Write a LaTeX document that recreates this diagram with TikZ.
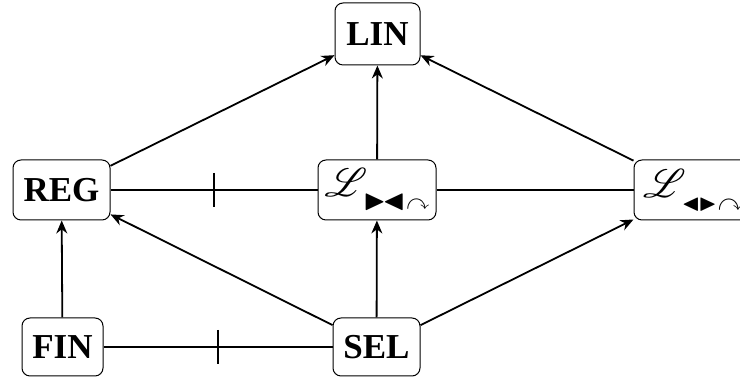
\documentclass[tikz,border=0pt]{standalone}
\usepackage{graphicx}
\usepackage{amssymb}
\usepackage{mathrsfs}
\usepackage{fontspec}
\setmainfont{Liberation Serif}
\usetikzlibrary{arrows.meta,calc}
\newcommand{\bigL}{\resizebox{!}{14pt}{$\mathscr{L}$}}
\newcommand{\subsym}[2]{\raisebox{-6.5pt}{\resizebox{#1}{!}{$#2$}}}
\begin{document}
\begin{tikzpicture}[x=0.5pt,y=-0.5pt,
  box/.style={draw,rounded corners=4pt,line width=0.5pt,inner sep=0pt,
    font=\fontsize{17.5pt}{20pt}\selectfont\bfseries},
  arr/.style={line width=0.9pt,-{Stealth[length=6.5pt,width=5.5pt]}},
  ln/.style={line width=0.9pt},
  tick/.style={line width=0.9pt}]
\useasboundingbox (0,0) rectangle (740,378);
\node[box,minimum width=42.5pt,minimum height=31pt] (lin) at (377.5,34) {LIN};
\node[box,minimum width=48.5pt,minimum height=30pt] (reg) at (61.5,190) {REG};
\node[box,minimum width=59pt,minimum height=30pt] (mid) at (377,190)
  {\bigL\hspace{-2pt}\subsym{21pt}{\blacktriangleright\mkern-2mu\blacktriangleleft}\hspace{0.5pt}\subsym{11.5pt}{\curvearrowright}\hspace{-3pt}};
\node[box,minimum width=59pt,minimum height=30pt] (rgt) at (693,190)
  {\bigL\hspace{-2pt}\subsym{17.5pt}{\blacktriangleleft\mkern-1mu\blacktriangleright}\hspace{0.5pt}\subsym{12.5pt}{\curvearrowright}\hspace{-3pt}};
\node[box,minimum width=40.5pt,minimum height=29pt] (fin) at (62.5,347) {FIN};
\node[box,minimum width=43.5pt,minimum height=29pt] (sel) at (376.5,347) {SEL};
% plain / tick connectors
\draw[ln] (reg.east) -- (mid.west);
\draw[ln] (mid.east) -- (rgt.west);
\draw[ln] (fin.east) -- (sel.west);
\coordinate (t1) at ($(reg.east)!0.5!(mid.west)$);
\coordinate (t2) at ($(fin.east)!0.5!(sel.west)$);
\draw[tick] ($(t1)+(0,-17)$) -- ($(t1)+(0,17)$);
\draw[tick] ($(t2)+(0,-17)$) -- ($(t2)+(0,17)$);
% arrows
\draw[arr] (reg) -- (lin);
\draw[arr] (mid) -- (lin);
\draw[arr] (rgt) -- (lin);
\draw[arr] (fin) -- (reg);
\draw[arr] (sel) -- (reg);
\draw[arr] (sel) -- (mid);
\draw[arr] (sel) -- (rgt);
\end{tikzpicture}
\end{document}
